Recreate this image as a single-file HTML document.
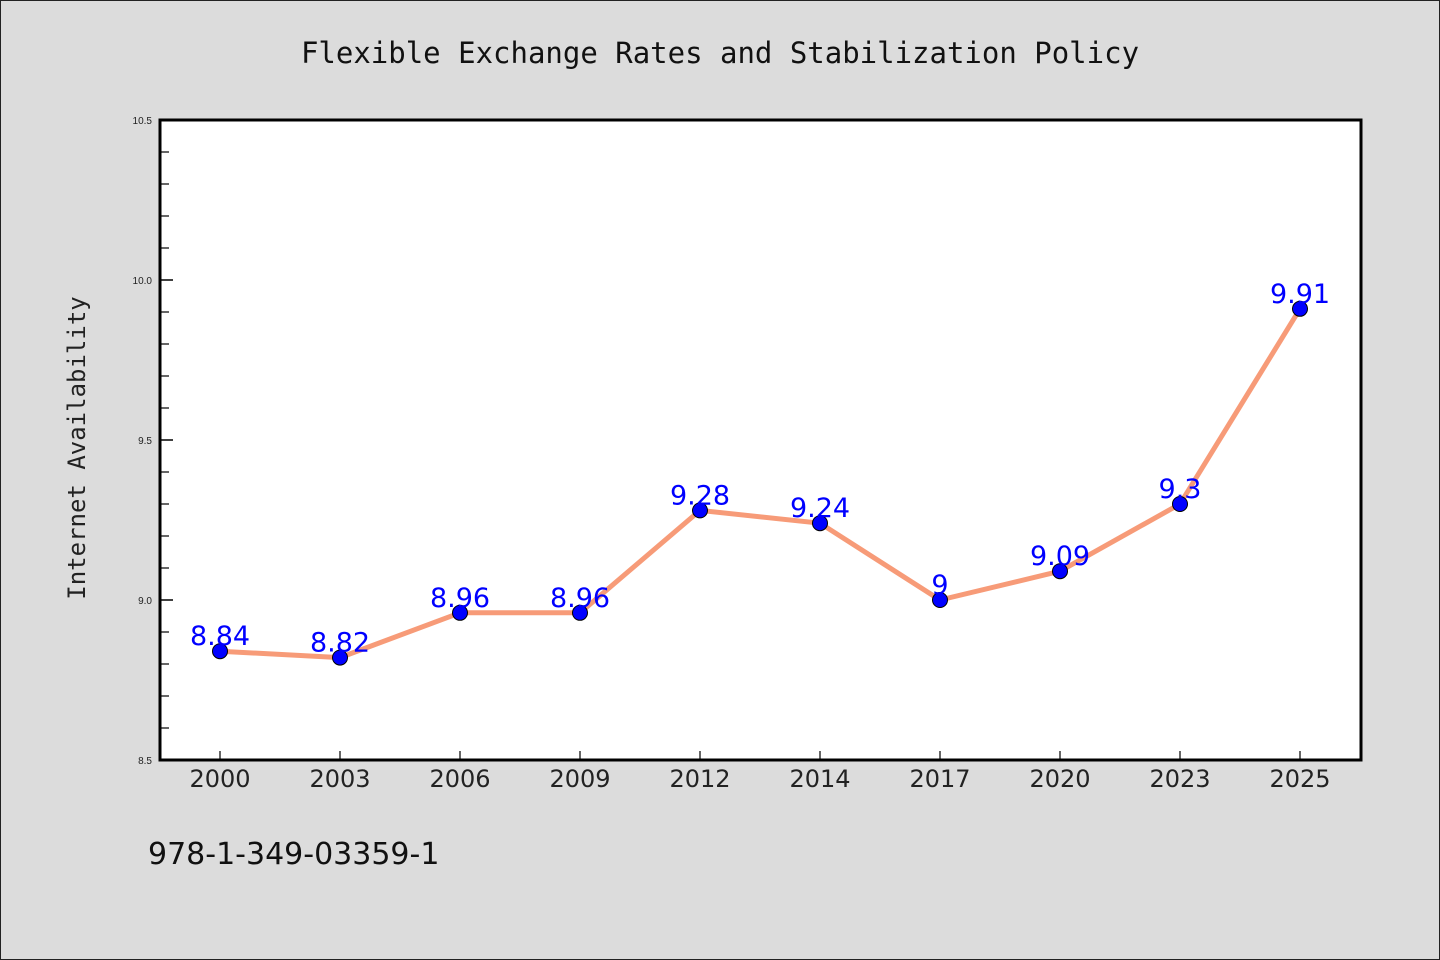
<!DOCTYPE html>
<html><head><meta charset="utf-8"><style>
html,body{margin:0;padding:0;background:#dcdcdc;}
svg{display:block;font-family:"Liberation Sans","DejaVu Sans",sans-serif;}
</style></head><body>
<svg id="chart" width="1440" height="960">
<rect x="0.5" y="0.5" width="1439" height="959" fill="#dcdcdc" stroke="#222"/>
<text x="720" y="63" text-anchor="middle" font-family="DejaVu Sans Mono, Liberation Mono, monospace" font-size="29" fill="#111">Flexible Exchange Rates and Stabilization Policy</text>
<rect x="160" y="120" width="1201" height="640" fill="#fff"/>
<g id="axes"></g>
<g id="series"></g>
<rect x="160" y="120" width="1201" height="640" fill="none" stroke="#000" stroke-width="3"/>
<text transform="translate(85,448) rotate(-90)" text-anchor="middle" font-family="DejaVu Sans Mono, Liberation Mono, monospace" font-size="24" fill="#222">Internet Availability</text>
<text x="148" y="864" font-family="DejaVu Sans, sans-serif" font-size="30" fill="#111">978-1-349-03359-1</text>
</svg>
<script>
const categories=["2000","2003","2006","2009","2012","2014","2017","2020","2023","2025"];
const values=[8.84,8.82,8.96,8.96,9.28,9.24,9.00,9.09,9.30,9.91];
const valueLabels=["8.84","8.82","8.96","8.96","9.28","9.24","9","9.09","9.3","9.91"];
const yTicks=[8.5,9.0,9.5,10.0,10.5];
const yTickLabels=["8.5","9.0","9.5","10.0","10.5"];
const yMin=8.5,yMax=10.5;
const ns="http://www.w3.org/2000/svg";
const L=160,R=1361,T=120,B=760;
const x=i=>L+(R-L-1)/categories.length*(i+0.5);
const y=v=>B-(v-yMin)/(yMax-yMin)*(B-T);
function mk(tag,attrs,parent,text){const e=document.createElementNS(ns,tag);for(const k in attrs)e.setAttribute(k,attrs[k]);if(text!==undefined)e.textContent=text;parent.appendChild(e);return e;}
const ax=document.getElementById('axes'),sr=document.getElementById('series');
yTicks.forEach((v,i)=>{
 const t=mk('line',{x1:L,x2:L+13,y1:y(v),y2:y(v),stroke:'#000','stroke-width':1.5},ax);
 
 
 const lb=mk('text',{x:L-8,y:y(v)+4,'text-anchor':'end','font-size':10,fill:'#222'},ax,yTickLabels[i]);
 
 
 if(i<yTicks.length-1){for(let k=1;k<5;k++){const mv=v+(yTicks[i+1]-v)*k/5;
  const m=mk('line',{x1:L,x2:L+9,y1:y(mv),y2:y(mv),stroke:'#000','stroke-width':1.2},ax);
  
  }}
});
categories.forEach((c,i)=>{
 const t=mk('line',{x1:x(i),x2:x(i),y1:B,y2:B-9,stroke:'#000','stroke-width':1.2},ax);
 
 
 const lb=mk('text',{x:x(i),y:B+27,'text-anchor':'middle','font-family':'DejaVu Sans, sans-serif','font-size':24,fill:'#222'},ax,c);
 
 
});
const pts=values.map((v,i)=>x(i)+','+y(v)).join(' ');
const line=mk('polyline',{points:pts,fill:'none',stroke:'#f79b78','stroke-width':5,'stroke-linejoin':'round'},sr);


values.forEach((v,i)=>{
 const p=mk('circle',{cx:x(i),cy:y(v),r:7.5,fill:'#0000ff',stroke:'#000','stroke-width':1},sr);
 
 
});
values.forEach((v,i)=>{
 const lb=mk('text',{x:x(i),y:y(v)-6,'text-anchor':'middle','font-family':'DejaVu Sans, sans-serif','font-size':27,fill:'#0000ff'},sr,valueLabels[i]);
 
 
});
</script>
</body></html>
